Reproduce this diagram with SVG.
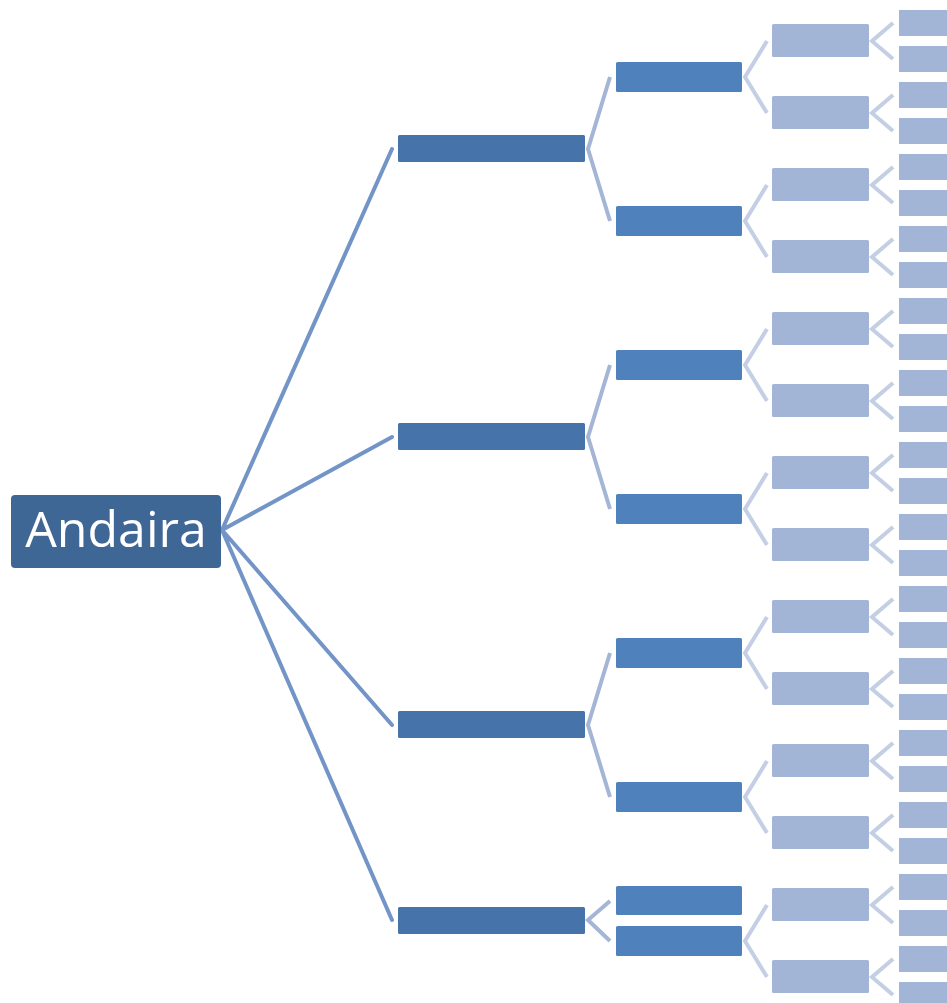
<svg xmlns="http://www.w3.org/2000/svg" width="947" height="1003" viewBox="0 0 947 1003">
<style>
.root{fill:#3F6796}
.l1{fill:#4674AA}
.l2{fill:#4F81BD}
.l3{fill:#A3B5D6}
.l4{fill:#A3B5D6}
.c0{fill:none;stroke:#7394C7;stroke-width:4;stroke-linecap:round}
.c1{fill:none;stroke:#A4B5D6;stroke-width:4}
.c2{fill:none;stroke:#C4CFE5;stroke-width:4}
.t{font-family:"Open Sans","Noto Sans",sans-serif;font-size:50px;fill:#FFFFFF}
</style>
<rect width="947" height="1003" fill="#FFFFFF"/>
<g id="connectors">
<path class="c0" d="M222,530 L392,149 M222,530 L392,437 M222,530 L392,725 M222,530 L392,920"/>
<path class="c1" d="M610,77 L588,149 L610,221 M610,365 L588,437 L610,509 M610,653 L588,725 L610,797 M610,901 L588,920 L610,941"/>
<path class="c2" d="M767,41 L745,77 L767,113 M767,185 L745,221 L767,257 M767,329 L745,365 L767,401 M767,473 L745,509 L767,545 M767,617 L745,653 L767,689 M767,761 L745,797 L767,833 M767,905 L745,941 L767,977"/>
<path class="c2" d="M893,23 L872,41 L893,59 M893,95 L872,113 L893,131 M893,167 L872,185 L893,203 M893,239 L872,257 L893,275 M893,311 L872,329 L893,347 M893,383 L872,401 L893,419 M893,455 L872,473 L893,491 M893,527 L872,545 L893,563 M893,599 L872,617 L893,635 M893,671 L872,689 L893,707 M893,743 L872,761 L893,779 M893,815 L872,833 L893,851 M893,887 L872,905 L893,923 M893,959 L872,977 L893,995"/>
</g>
<g id="root"><rect class="root" x="11" y="495" width="210" height="73" rx="4"/><text class="t" x="116" y="547" text-anchor="middle">Andaira</text></g>
<g id="l1-1"><rect class="l1" x="398" y="135" width="187" height="27" rx="1.5"/></g>
<g id="l1-2"><rect class="l1" x="398" y="423" width="187" height="27" rx="1.5"/></g>
<g id="l1-3"><rect class="l1" x="398" y="711" width="187" height="27" rx="1.5"/></g>
<g id="l1-4"><rect class="l1" x="398" y="907" width="187" height="27" rx="1.5"/></g>
<g id="l2-1"><rect class="l2" x="616" y="62" width="126" height="30" rx="1.5"/></g>
<g id="l2-2"><rect class="l2" x="616" y="206" width="126" height="30" rx="1.5"/></g>
<g id="l2-3"><rect class="l2" x="616" y="350" width="126" height="30" rx="1.5"/></g>
<g id="l2-4"><rect class="l2" x="616" y="494" width="126" height="30" rx="1.5"/></g>
<g id="l2-5"><rect class="l2" x="616" y="638" width="126" height="30" rx="1.5"/></g>
<g id="l2-6"><rect class="l2" x="616" y="782" width="126" height="30" rx="1.5"/></g>
<g id="l2-7"><rect class="l2" x="616" y="886" width="126" height="29" rx="1.5"/></g>
<g id="l2-8"><rect class="l2" x="616" y="926" width="126" height="30" rx="1.5"/></g>
<g id="l3-1"><rect class="l3" x="772" y="24" width="97" height="33" rx="1.5"/></g>
<g id="l3-2"><rect class="l3" x="772" y="96" width="97" height="33" rx="1.5"/></g>
<g id="l3-3"><rect class="l3" x="772" y="168" width="97" height="33" rx="1.5"/></g>
<g id="l3-4"><rect class="l3" x="772" y="240" width="97" height="33" rx="1.5"/></g>
<g id="l3-5"><rect class="l3" x="772" y="312" width="97" height="33" rx="1.5"/></g>
<g id="l3-6"><rect class="l3" x="772" y="384" width="97" height="33" rx="1.5"/></g>
<g id="l3-7"><rect class="l3" x="772" y="456" width="97" height="33" rx="1.5"/></g>
<g id="l3-8"><rect class="l3" x="772" y="528" width="97" height="33" rx="1.5"/></g>
<g id="l3-9"><rect class="l3" x="772" y="600" width="97" height="33" rx="1.5"/></g>
<g id="l3-10"><rect class="l3" x="772" y="672" width="97" height="33" rx="1.5"/></g>
<g id="l3-11"><rect class="l3" x="772" y="744" width="97" height="33" rx="1.5"/></g>
<g id="l3-12"><rect class="l3" x="772" y="816" width="97" height="33" rx="1.5"/></g>
<g id="l3-13"><rect class="l3" x="772" y="888" width="97" height="33" rx="1.5"/></g>
<g id="l3-14"><rect class="l3" x="772" y="960" width="97" height="33" rx="1.5"/></g>
<g id="l4-1"><rect class="l4" x="899" y="10" width="60" height="26"/></g>
<g id="l4-2"><rect class="l4" x="899" y="46" width="60" height="26"/></g>
<g id="l4-3"><rect class="l4" x="899" y="82" width="60" height="26"/></g>
<g id="l4-4"><rect class="l4" x="899" y="118" width="60" height="26"/></g>
<g id="l4-5"><rect class="l4" x="899" y="154" width="60" height="26"/></g>
<g id="l4-6"><rect class="l4" x="899" y="190" width="60" height="26"/></g>
<g id="l4-7"><rect class="l4" x="899" y="226" width="60" height="26"/></g>
<g id="l4-8"><rect class="l4" x="899" y="262" width="60" height="26"/></g>
<g id="l4-9"><rect class="l4" x="899" y="298" width="60" height="26"/></g>
<g id="l4-10"><rect class="l4" x="899" y="334" width="60" height="26"/></g>
<g id="l4-11"><rect class="l4" x="899" y="370" width="60" height="26"/></g>
<g id="l4-12"><rect class="l4" x="899" y="406" width="60" height="26"/></g>
<g id="l4-13"><rect class="l4" x="899" y="442" width="60" height="26"/></g>
<g id="l4-14"><rect class="l4" x="899" y="478" width="60" height="26"/></g>
<g id="l4-15"><rect class="l4" x="899" y="514" width="60" height="26"/></g>
<g id="l4-16"><rect class="l4" x="899" y="550" width="60" height="26"/></g>
<g id="l4-17"><rect class="l4" x="899" y="586" width="60" height="26"/></g>
<g id="l4-18"><rect class="l4" x="899" y="622" width="60" height="26"/></g>
<g id="l4-19"><rect class="l4" x="899" y="658" width="60" height="26"/></g>
<g id="l4-20"><rect class="l4" x="899" y="694" width="60" height="26"/></g>
<g id="l4-21"><rect class="l4" x="899" y="730" width="60" height="26"/></g>
<g id="l4-22"><rect class="l4" x="899" y="766" width="60" height="26"/></g>
<g id="l4-23"><rect class="l4" x="899" y="802" width="60" height="26"/></g>
<g id="l4-24"><rect class="l4" x="899" y="838" width="60" height="26"/></g>
<g id="l4-25"><rect class="l4" x="899" y="874" width="60" height="26"/></g>
<g id="l4-26"><rect class="l4" x="899" y="910" width="60" height="26"/></g>
<g id="l4-27"><rect class="l4" x="899" y="946" width="60" height="26"/></g>
<g id="l4-28"><rect class="l4" x="899" y="982" width="60" height="26"/></g>
</svg>
